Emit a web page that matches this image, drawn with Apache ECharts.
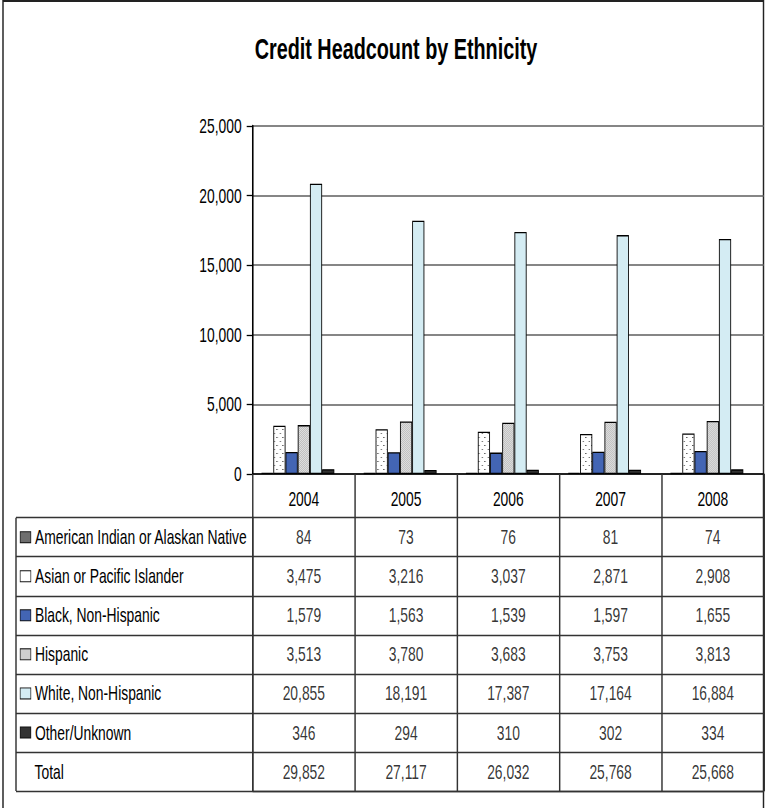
<!DOCTYPE html>
<html><head><meta charset="utf-8">
<script src="https://cdn.jsdelivr.net/npm/echarts@6/dist/echarts.min.js"></script>
<style>
html,body{margin:0;padding:0;background:#fff;overflow:hidden}
#wrap{width:765px;height:808px;overflow:hidden;position:relative}
#c{width:1159.1px;height:808px;transform:scaleX(0.66);transform-origin:0 0;position:absolute;left:0;top:0}
</style>
</head><body><div id="wrap"><div id="c"></div></div>
<script>
// ---- data ----
const years = ['2004','2005','2006','2007','2008'];
const seriesNames = ['American Indian or Alaskan Native','Asian or Pacific Islander','Black, Non-Hispanic','Hispanic','White, Non-Hispanic','Other/Unknown'];
const americanIndian = [84, 73, 76, 81, 74];
const asian = [3475, 3216, 3037, 2871, 2908];
const black = [1579, 1563, 1539, 1597, 1655];
const hispanic = [3513, 3780, 3683, 3753, 3813];
const white = [20855, 18191, 17387, 17164, 16884];
const other = [346, 294, 310, 302, 334];
const totals = [29852, 27117, 26032, 25768, 25668];
const yTicks = [0, 5000, 10000, 15000, 20000, 25000];

// the reference uses a tall, condensed face: render wide, then squeeze horizontally
const S = 0.66;
const X = v => v / S;
const FONT = "'Liberation Sans','Arial',sans-serif";
const FS = 21;

function pattern(w, h, bg, fg, pts) {
  const c = document.createElement('canvas'); c.width = w; c.height = h;
  const g = c.getContext('2d'); g.fillStyle = bg; g.fillRect(0,0,w,h);
  g.fillStyle = fg; pts.forEach(p => g.fillRect(p[0], p[1], 1.5, 1));
  return { image: c.toDataURL(), imageWidth: w, imageHeight: h, repeat: 'repeat' };
}
const asianFill = pattern(9, 8, '#ffffff', '#222222', [[1,1],[5,5]]);
const hispFill = pattern(3, 2, '#e6e6e6', '#b8b8b8', [[0,0],[1.5,1]]);

const fills = ['#555555', asianFill, '#4365b4', hispFill, '#d4ecf3', '#333333'];
const keyColors = ['#6e6e6e', '#ffffff', '#4365b4', '#cfcfcf', '#d4ecf3', '#333333'];
const seriesData = [americanIndian, asian, black, hispanic, white, other];
const rowLabels = seriesNames.concat(['Total']);
const rowValues = seriesData.concat([totals]);

const fmt = v => Number(v).toLocaleString('en-US');

const chart = echarts.init(document.getElementById('c'), null, { renderer: 'svg' });

const BW = X(12.2);
const barSeries = seriesNames.map((n, i) => ({
  name: n, type: 'bar', xAxisIndex: 0, yAxisIndex: 0,
  barWidth: BW, barGap: '0%',
  itemStyle: { color: fills[i], borderColor: '#000', borderWidth: 1.3 },
  data: seriesData[i], silent: true
}));
// empty spacer slot so the 6 bars sit left of the category centre, as in the reference
barSeries.push({ name: 'spacer', type: 'bar', xAxisIndex: 0, yAxisIndex: 0, barWidth: BW, barGap: '0%', data: [], silent: true });

const cellData = [];
rowValues.forEach((arr, r) => arr.forEach((v, c) => cellData.push([c, r, v])));

const rich = {
  t: { fontFamily: FONT, fontSize: FS, color: '#000', padding: [0,0,0,X(4.5)] },
  n: { fontFamily: FONT, fontSize: FS, color: '#000', padding: [0,0,0,X(14)] }
};
keyColors.forEach((c, i) => { rich['k' + i] = { width: X(10), height: 10, backgroundColor: c, borderColor: '#111', borderWidth: 1 }; });

const option = {
  animation: false,
  backgroundColor: '#fff',
  grid: [
    { left: X(252.7), right: X(1), top: 126, bottom: 334, containLabel: false },
    { left: X(252.7), right: X(1), top: 517.7, bottom: 17, containLabel: false }
  ],
  xAxis: [
    { type: 'category', gridIndex: 0, data: years, boundaryGap: true,
      axisLine: { lineStyle: { color: '#000', width: 1.5 } },
      axisTick: { show: true, length: 317, lineStyle: { color: '#333', width: 2.2 } },
      axisLabel: { fontFamily: FONT, fontSize: FS, color: '#000', margin: 14 } },
    { type: 'category', gridIndex: 1, data: years, boundaryGap: true, position: 'bottom',
      axisLine: { show: true, lineStyle: { color: '#333', width: 1.4 } },
      axisTick: { show: false }, axisLabel: { show: false } }
  ],
  yAxis: [
    { type: 'value', gridIndex: 0, min: 0, max: 25000, interval: 5000,
      axisLine: { show: true, lineStyle: { color: '#000', width: 2.4 } },
      axisTick: { show: true, length: X(6), lineStyle: { color: '#000', width: 1.3 } },
      splitLine: { show: true, lineStyle: { color: '#5e5e5e', width: 1.6 } },
      axisLabel: { fontFamily: FONT, fontSize: FS, color: '#000', margin: X(11), formatter: v => fmt(v) } },
    { type: 'category', gridIndex: 1, data: rowLabels, inverse: true, boundaryGap: true,
      axisLine: { show: true, lineStyle: { color: '#333', width: 2.2 } },
      axisTick: { show: true, length: X(252.7 - 16), lineStyle: { color: '#333', width: 1.4 } },
      splitLine: { show: true, lineStyle: { color: '#333', width: 1.4 } },
      axisLabel: { align: 'left', margin: X(252.7 - 20.5), fontFamily: FONT, fontSize: FS, color: '#000',
        formatter: (v, i) => i < 6 ? '{k' + i + '|}{t|' + v + '}' : '{n|' + v + '}', rich: rich } }
  ],
  series: barSeries.concat([{
    type: 'scatter', xAxisIndex: 1, yAxisIndex: 1, symbolSize: 1, silent: true,
    itemStyle: { color: 'rgba(0,0,0,0)' },
    label: { show: true, position: 'inside', fontFamily: FONT, fontSize: FS, color: '#000',
      formatter: p => fmt(p.value[2]) },
    labelLayout: { hideOverlap: false },
    data: cellData
  }]),
  graphic: [
    { type: 'text', style: { text: 'Credit Headcount by Ethnicity', x: X(396), y: 48, align: 'center', verticalAlign: 'middle',
        font: 'bold 30px ' + FONT, fill: '#000' } },
    { type: 'line', shape: { x1: X(16), y1: 517.7, x2: X(16), y2: 791 }, style: { stroke: '#333', lineWidth: 2.2 } },
    { type: 'rect', shape: { x: X(3), y: 1, width: X(760.5), height: 830 }, style: { fill: 'none', stroke: '#222', lineWidth: 2.2 } }
  ]
};
chart.setOption(option);
</script></body></html>
